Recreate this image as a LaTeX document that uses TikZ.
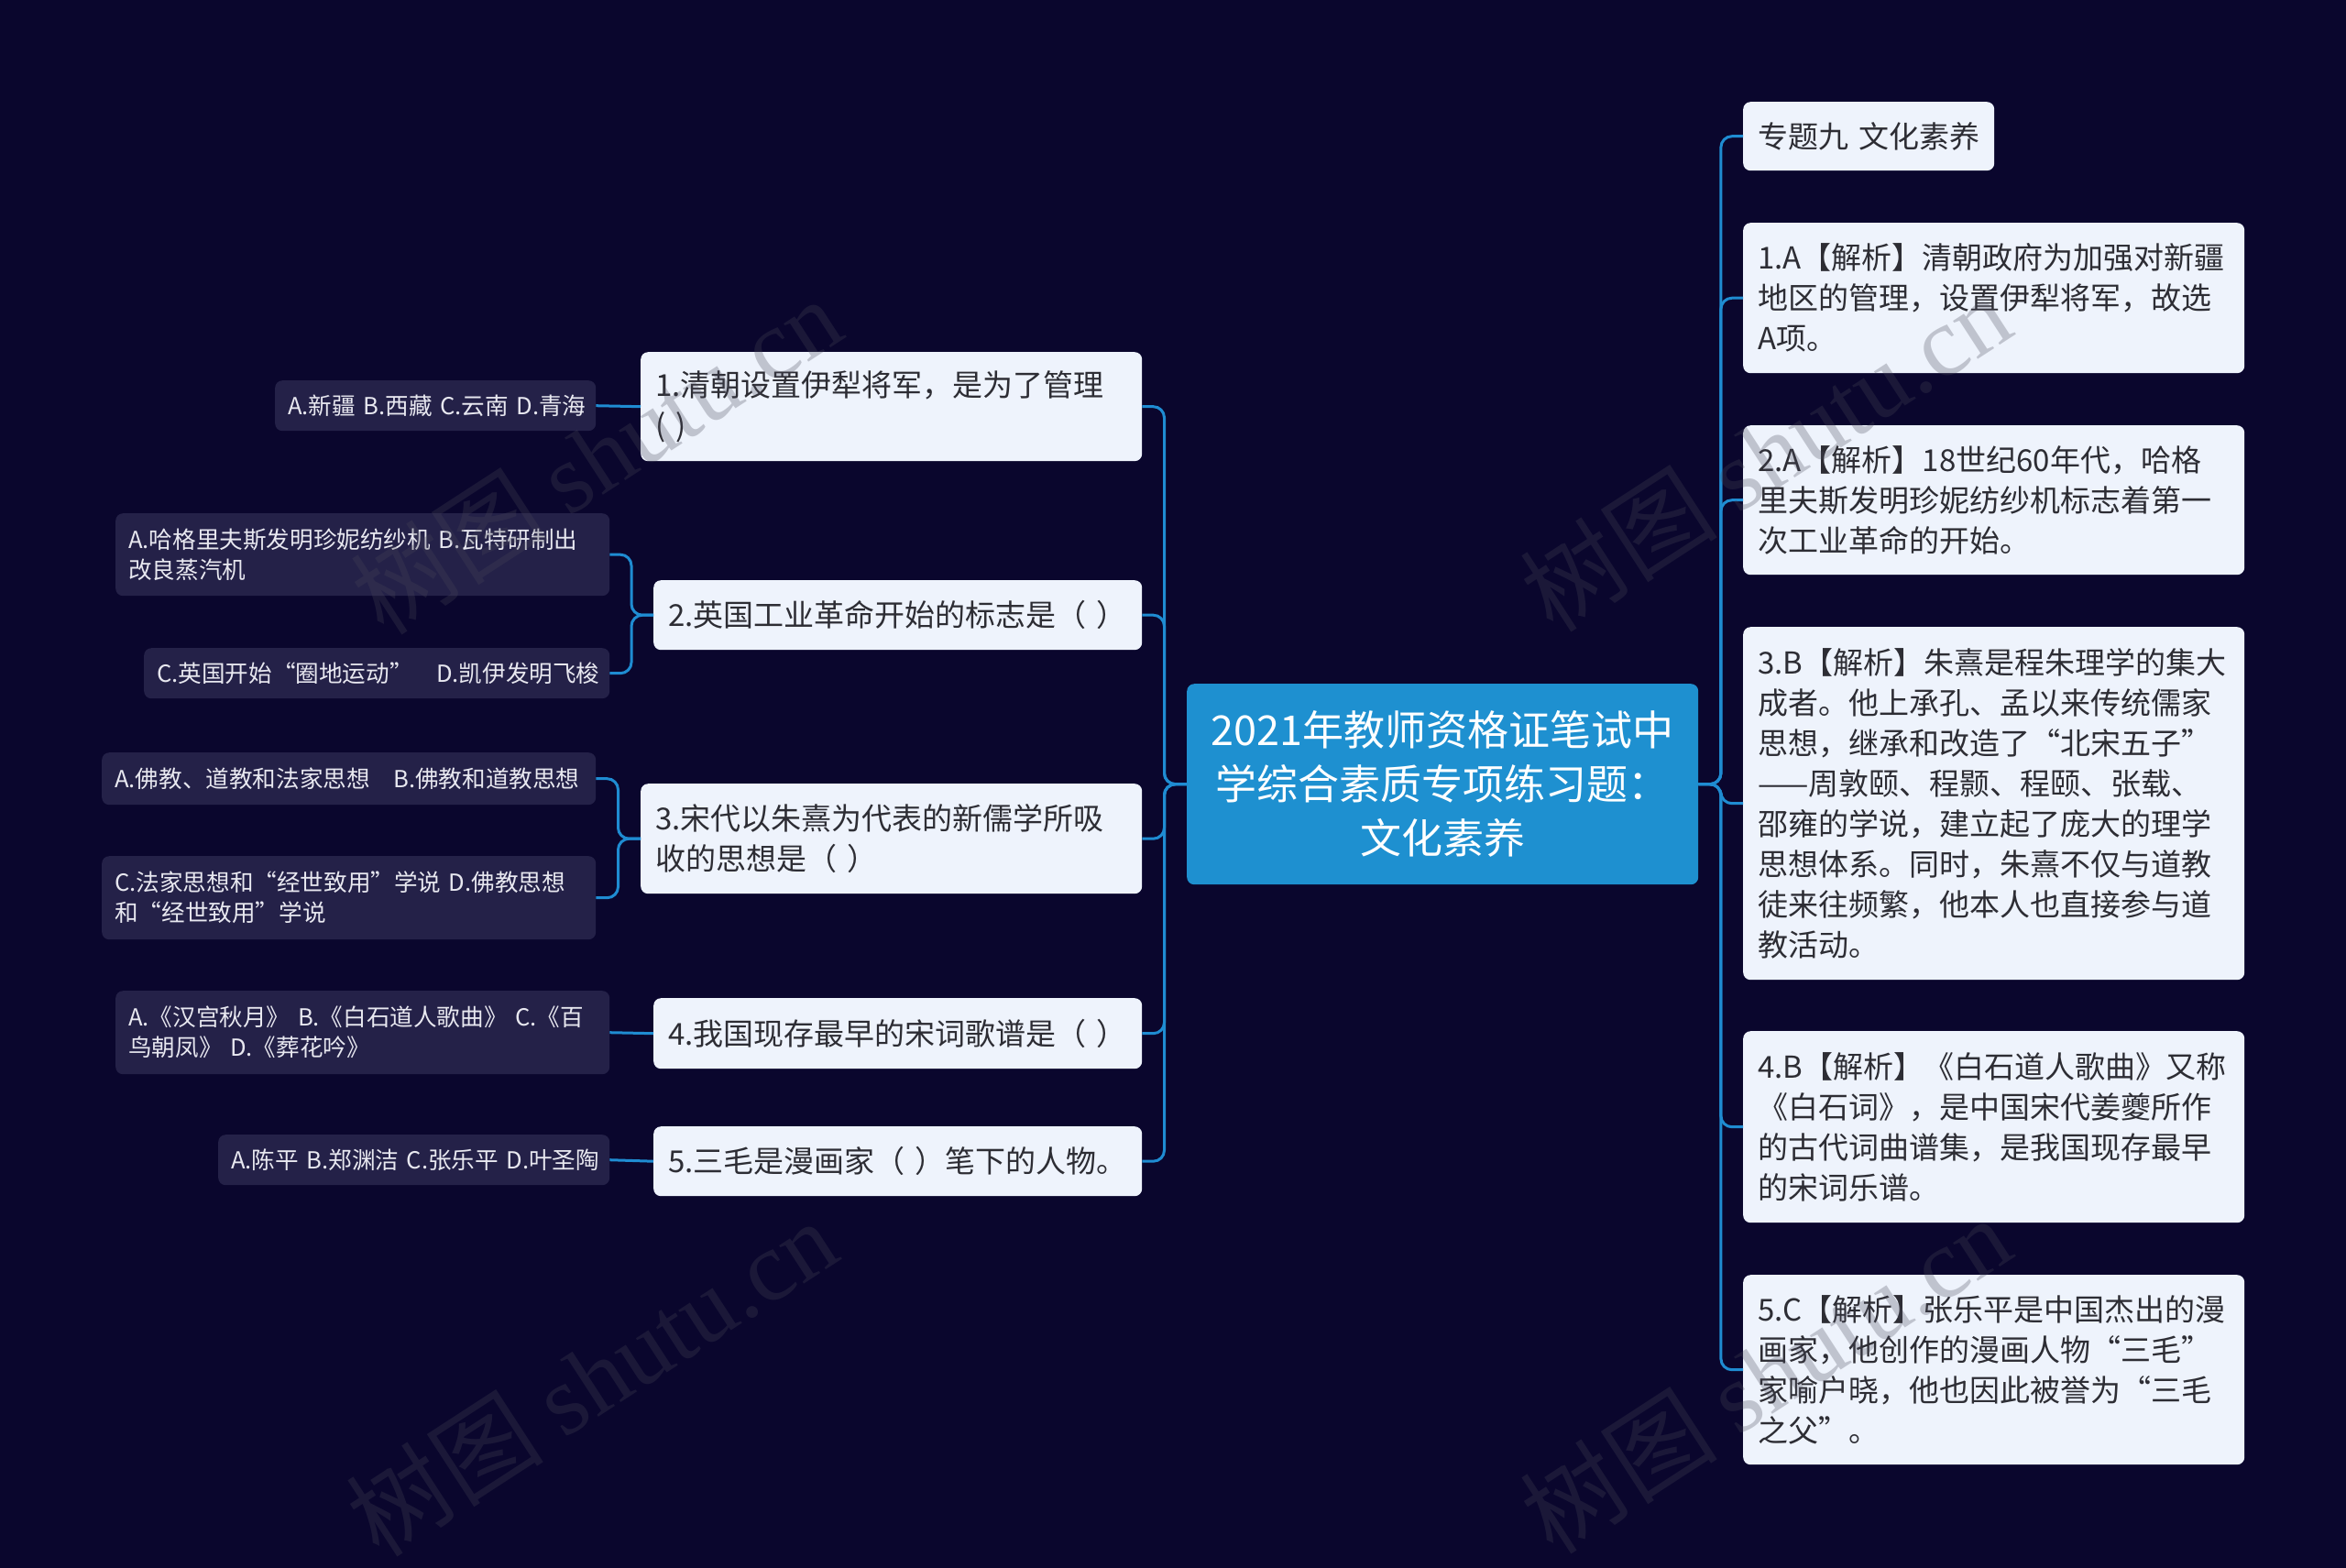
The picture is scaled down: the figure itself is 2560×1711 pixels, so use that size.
\documentclass[tikz,border=0pt]{standalone}
\usepackage{fontspec}
\setmainfont{Noto Sans CJK SC}
\newfontfamily\wmserif{Liberation Serif}
\definecolor{bgc}{RGB}{10,6,45}
\definecolor{linec}{RGB}{31,140,210}
\definecolor{rootc}{RGB}{30,144,208}
\definecolor{lightbox}{RGB}{238,243,252}
\definecolor{darkbox}{RGB}{36,33,72}
\definecolor{darktext}{RGB}{45,45,52}
\definecolor{opttext}{RGB}{232,232,240}
\definecolor{wmc}{RGB}{72,72,88}
\tikzset{
  box/.style={rounded corners=8pt, anchor=north west, inner xsep=16pt, inner ysep=0pt, align=left},
  lbox/.style={box, fill=lightbox, text=darktext, font=\fontsize{33pt}{44pt}\selectfont},
  obox/.style={box, fill=darkbox, text=opttext, font=\fontsize{25.6pt}{33pt}\selectfont, inner xsep=14pt},
  rootbox/.style={rounded corners=8pt, anchor=north west, inner sep=0pt, align=center, fill=rootc, text=white, font=\fontsize{45pt}{59pt}\selectfont},
  conn/.style={draw=linec, line width=3pt, rounded corners=12pt},
  wmark/.style={rotate=33, text=wmc, opacity=0.28, font=\fontsize{108pt}{108pt}\selectfont}
}
\begin{document}
\begin{tikzpicture}[x=1pt,y=-1pt]
\useasboundingbox (0,0) rectangle (2560,1711);
\fill[bgc] (0,0) rectangle (2560,1711);

% root
\node[rootbox, minimum width=558pt, minimum height=219pt, text width=558pt] (root) at (1295,746) {2021年教师资格证笔试中\\学综合素质专项练习题：\\文化素养};

% right column
\node[lbox, minimum width=274pt, minimum height=75pt, text width=242pt] (r0) at (1902,111) {专题九 文化素养};
\node[lbox, minimum width=547pt, minimum height=164pt, text width=515pt] (r1) at (1902,243) {1.A【解析】清朝政府为加强对新疆\\地区的管理，设置伊犁将军，故选\\A项。};
\node[lbox, minimum width=547pt, minimum height=163pt, text width=515pt] (r2) at (1902,464) {2.A【解析】18世纪60年代，哈格\\里夫斯发明珍妮纺纱机标志着第一\\次工业革命的开始。};
\node[lbox, minimum width=547pt, minimum height=385pt, text width=515pt] (r3) at (1902,684) {3.B【解析】朱熹是程朱理学的集大\\成者。他上承孔、孟以来传统儒家\\思想，继承和改造了“北宋五子”\\——周敦颐、程颢、程颐、张载、\\邵雍的学说，建立起了庞大的理学\\思想体系。同时，朱熹不仅与道教\\徒来往频繁，他本人也直接参与道\\教活动。};
\node[lbox, minimum width=547pt, minimum height=209pt, text width=515pt] (r4) at (1902,1125) {4.B【解析】《白石道人歌曲》又称\\《白石词》，是中国宋代姜夔所作\\的古代词曲谱集，是我国现存最早\\的宋词乐谱。};
\node[lbox, minimum width=547pt, minimum height=207pt, text width=515pt] (r5) at (1902,1391) {5.C【解析】张乐平是中国杰出的漫\\画家，他创作的漫画人物“三毛”\\家喻户晓，他也因此被誉为“三毛\\之父”。};

% left questions
\node[lbox, minimum width=547pt, minimum height=119pt, text width=515pt] (q1) at (699,384) {1.清朝设置伊犁将军，是为了管理\\( )};
\node[lbox, minimum width=533pt, minimum height=76pt, text width=501pt] (q2) at (713,633) {2.英国工业革命开始的标志是（ ）};
\node[lbox, minimum width=547pt, minimum height=120pt, text width=515pt] (q3) at (699,855) {3.宋代以朱熹为代表的新儒学所吸\\收的思想是（ ）};
\node[lbox, minimum width=533pt, minimum height=77pt, text width=501pt] (q4) at (713,1089) {4.我国现存最早的宋词歌谱是（ ）};
\node[lbox, minimum width=533pt, minimum height=76pt, text width=501pt] (q5) at (713,1229) {5.三毛是漫画家（ ）笔下的人物。};

% options
\node[obox, minimum width=350pt, minimum height=55pt, text width=322pt] (o1) at (300,415) {\mbox{A.新疆 B.西藏 C.云南 D.青海}};
\node[obox, minimum width=539pt, minimum height=90pt, text width=511pt] (o2a) at (126,560) {\mbox{A.哈格里夫斯发明珍妮纺纱机 B.瓦特研制出}\\改良蒸汽机};
\node[obox, minimum width=508pt, minimum height=55pt, text width=480pt] (o2b) at (157,707) {\mbox{C.英国开始“圈地运动”\ \ \ D.凯伊发明飞梭}};
\node[obox, minimum width=539pt, minimum height=57pt, text width=511pt] (o3a) at (111,821) {\mbox{A.佛教、道教和法家思想\ \ \ B.佛教和道教思想}};
\node[obox, minimum width=539pt, minimum height=91pt, text width=511pt] (o3b) at (111,934) {\mbox{C.法家思想和“经世致用”学说 D.佛教思想}\\和“经世致用”学说};
\node[obox, minimum width=539pt, minimum height=91pt, text width=511pt] (o4) at (126,1081) {\mbox{A.《汉宫秋月》 B.《白石道人歌曲》 C.《百}\\鸟朝凤》 D.《葬花吟》};
\node[obox, minimum width=427pt, minimum height=55pt, text width=399pt] (o5) at (238,1238) {\mbox{A.陈平 B.郑渊洁 C.张乐平 D.叶圣陶}};

% connectors right
\foreach \n in {r0,r1,r2,r3,r4,r5}
  \draw[conn] (root.east) -- ++(24.5,0) |- (\n.west);
% connectors left
\foreach \n in {q1,q2,q3,q4,q5}
  \draw[conn] (root.west) -- ++(-24.5,0) |- (\n.east);
% question to options
\draw[conn] (q1.west) -- (o1.east);
\draw[conn] (q2.west) -- ++(-24,0) |- (o2a.east);
\draw[conn] (q2.west) -- ++(-24,0) |- (o2b.east);
\draw[conn] (q3.west) -- ++(-24.5,0) |- (o3a.east);
\draw[conn] (q3.west) -- ++(-24.5,0) |- (o3b.east);
\draw[conn] (q4.west) -- (o4.east);
\draw[conn] (q5.west) -- (o5.east);

% watermarks
\node[wmark] (w1) at (650,497) {树图 {\wmserif shutu.cn}};
\node[wmark] (w2) at (1926,494) {树图 {\wmserif shutu.cn}};
\node[wmark] (w3) at (645,1503) {树图 {\wmserif shutu.cn}};
\node[wmark] (w4) at (1926,1500) {树图 {\wmserif shutu.cn}};
\end{tikzpicture}
\end{document}
